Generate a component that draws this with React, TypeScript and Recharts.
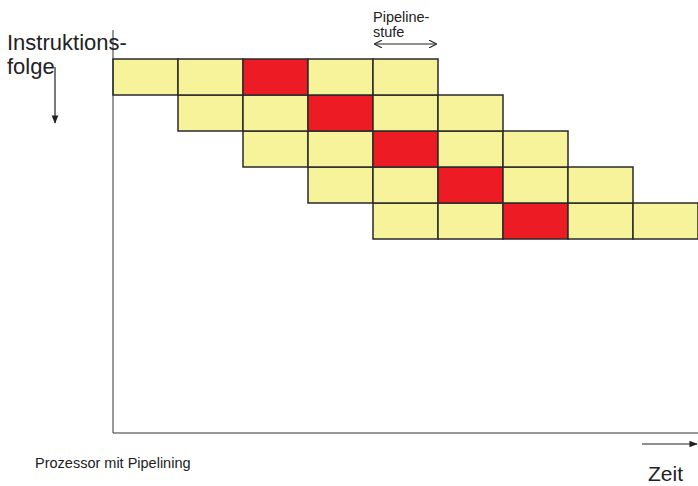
import { Bar, BarChart, XAxis, YAxis } from "recharts";

// instructions (rows) and the clock cycle each one enters the pipeline
const instructions = ["Befehl 1", "Befehl 2", "Befehl 3", "Befehl 4", "Befehl 5"];
const startCycles = [0, 1, 2, 3, 4];
// pipeline stages, each lasts one cycle; the third one is highlighted
const stages = ["s1", "s2", "s3", "s4", "s5"];
const stageCycles = [1, 1, 1, 1, 1];
const highlightedStage = "s3";
const totalCycles = 9;

const data = instructions.map((name, i) => {
  const row: Record<string, string | number> = { name, offset: startCycles[i] };
  stages.forEach((s, j) => {
    row[s] = stageCycles[j];
  });
  return row;
});

const YELLOW = "#F7F39A";
const RED = "#ED1C24";
const EDGE = "#2a2a2a";
const FONT = "'Liberation Sans', Arial, sans-serif";

export default function App() {
  return (
    <div style={{ position: "absolute", left: 0, top: 0, width: 698, height: 486, background: "#fff" }}>
      <BarChart
        layout="vertical"
        data={data}
        width={698}
        height={486}
        margin={{ top: 30, left: 112, right: 0, bottom: 52 }}
        barCategoryGap={0}
        barGap={0}
      >
        <XAxis
          type="number"
          domain={[0, totalCycles]}
          height={1}
          tick={false}
          tickLine={false}
          axisLine={{ stroke: "#333", strokeWidth: 1 }}
        />
        <YAxis
          type="category"
          dataKey="name"
          width={1}
          tick={false}
          tickLine={false}
          padding={{ top: 29, bottom: 194 }}
          axisLine={{ stroke: "#333", strokeWidth: 1 }}
        />
        <Bar dataKey="offset" stackId="a" fill="transparent" stroke="none" isAnimationActive={false} />
        {stages.map((s) => (
          <Bar
            key={s}
            dataKey={s}
            stackId="a"
            fill={s === highlightedStage ? RED : YELLOW}
            stroke={EDGE}
            strokeWidth={1.5}
            isAnimationActive={false}
          />
        ))}
      </BarChart>
      <svg
        width={698}
        height={486}
        style={{ position: "absolute", left: 0, top: 0, pointerEvents: "none" }}
      >
        <defs>
          <marker id="head" viewBox="0 0 10 10" refX="9" refY="5" markerWidth="7" markerHeight="7" orient="auto-start-reverse">
            <path d="M0,1 L10,5 L0,9 z" fill="#222" />
          </marker>
          <marker id="chev" viewBox="0 0 10 10" refX="9" refY="5" markerWidth="8" markerHeight="8" orient="auto-start-reverse">
            <path d="M0,0 L10,5 L0,10" fill="none" stroke="#222" strokeWidth="1.4" />
          </marker>
        </defs>
        <g fontFamily={FONT} fill="#222">
          <text x={7} y={50} fontSize={22}>Instruktions-</text>
          <text x={7} y={74} fontSize={22}>folge</text>
          <text x={373} y={22} fontSize={14.5}>Pipeline-</text>
          <text x={373} y={37} fontSize={14.5}>stufe</text>
          <text x={35} y={468} fontSize={14.5}>Prozessor mit Pipelining</text>
          <text x={648} y={481} fontSize={21}>Zeit</text>
        </g>
        <line x1={55} y1={67} x2={55} y2={123} stroke="#222" strokeWidth={1.2} markerEnd="url(#head)" />
        <line x1={642} y1={444} x2={697} y2={444} stroke="#222" strokeWidth={1.2} markerEnd="url(#head)" />
        <line x1={375} y1={44} x2={436} y2={44} stroke="#222" strokeWidth={1} markerStart="url(#chev)" markerEnd="url(#chev)" />
      </svg>
    </div>
  );
}
